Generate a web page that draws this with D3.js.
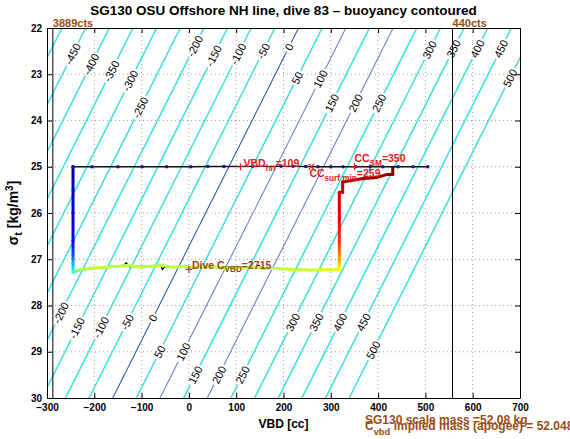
<!DOCTYPE html>
<html><head><meta charset="utf-8">
<script src="https://cdn.jsdelivr.net/npm/d3@7"></script>
<style>
body{margin:0;background:#fff;}
svg{display:block;font-family:"Liberation Sans",Arial,Helvetica,sans-serif;}
</style></head><body>
<svg id="chart" width="570" height="439"></svg>
<script>
// ---------------- data ----------------
const titleText = "SG130 OSU Offshore NH line, dive 83 \u2013 buoyancy contoured";
const xTicks = [-300,-200,-100,0,100,200,300,400,500,600,700];
const yTicks = [22,23,24,25,26,27,28,29,30];

// buoyancy contours: B = VBD + buoyPerSigma*(sigma - sigmaNeutral)
const buoyPerSigma = 49.1, sigmaNeutral = 26.72;
const contourLevels = [-500,-450,-400,-350,-300,-250,-200,-150,-100,-50,0,50,100,150,200,250,300,350,400,450,500];
const contourLabelLevels = [-450,-400,-350,-300,-250,-200,-150,-100,-50,0,50,100,150,200,250,300,350,400,450,500,
                            -200,-150,-100,-50,0,50,100,150,200,250,300,350,400,450,500];
const contourLabelSigma  = [22.56,22.78,22.93,23.14,23.72,22.39,22.60,22.56,22.50,22.41,23.08,23.10,23.62,23.62,23.62,22.47,22.45,22.45,22.45,23.08,
                            28.16,28.49,28.47,28.36,28.27,29.00,29.00,29.50,29.50,29.50,28.36,28.36,28.36,28.36,28.96];

// VBD counts limits
const cVBD = 2715, vbdPerCount = -0.245;
const ctsLimits = [3889, 440];

// dive track: [VBD, sigma_t, time fraction]
const descentTrack = [[-245,25.00,0.02],[-245,25.50,0.06],[-245,26.00,0.09],[-245,26.60,0.125],[-245,26.90,0.2],[-245,27.10,0.31],[-245,27.28,0.43]];
const deepTrack = [[-245,27.28,0.43],[-236,27.25,0.5],[-225,27.22,0.54],[-212,27.20,0.555],[-200,27.19,0.56],[-188,27.18,0.56],[-176,27.17,0.56],
  [-164,27.15,0.56],[-152,27.16,0.56],[-140,27.14,0.56],[-128,27.13,0.56],[-116,27.15,0.56],[-104,27.17,0.56],[-92,27.16,0.56],[-80,27.15,0.56],
  [-68,27.14,0.56],[-56,27.13,0.56],[-44,27.16,0.56],[-32,27.17,0.56],[-20,27.16,0.56],[-8,27.15,0.56],[4,27.17,0.56],[16,27.18,0.56],[28,27.17,0.56],
  [40,27.16,0.56],[52,27.17,0.56],[64,27.18,0.56],[76,27.19,0.56],[88,27.18,0.56],[100,27.20,0.56],[112,27.19,0.56],[124,27.18,0.56],[136,27.17,0.56],
  [148,27.18,0.56],[160,27.20,0.56],[172,27.19,0.56],[184,27.20,0.56],[196,27.21,0.565],[208,27.21,0.565],[220,27.22,0.57],[232,27.23,0.57],
  [244,27.22,0.575],[256,27.24,0.58],[268,27.23,0.585],[280,27.22,0.59],[292,27.22,0.595],[304,27.23,0.6],[318,27.22,0.62]];
const deepBlackTrack = [[-245,27.27],[-200,27.19],[-140,27.14],[-132,27.08],[-126,27.16],[-80,27.15],[-60,27.12],[-56,27.22],[-50,27.16],[0,27.17],
  [140,27.17],[148,27.13],[152,27.18],[256,27.23],[318,27.22]];
const ascentTrack = [[318,27.22,0.62],[318,27.00,0.72],[318,26.60,0.83],[318,26.10,0.885],[318,25.55,0.93],[325,25.55,0.94],[325,25.33,0.95],
  [365,25.26,0.96],[397,25.23,0.97],[418,25.17,0.98],[431,25.17,0.99],[431,25.01,1.0]];
const surfaceVBD   = [-245,-205,-150,-99,-47,4,40,74,135,195,220,247,273,300,326,353,383,410,442,474,505];
const surfaceSigma = [25.00,25.00,25.00,25.00,25.00,25.00,24.995,24.995,24.99,24.99,24.99,24.995,25.0,25.0,25.0,25.0,25.0,25.0,25.0,25.0,25.0];

// annotations
const vbdNeutral = 109, ccSM = 350, ccSurfMin = 259, diveCVBDmark = [0, 27.22];
const massScale = 52.08, massImplied = "52.048";

// ---------------- drawing ----------------
const svg = d3.select("#chart");
const x = d3.scaleLinear().domain([-300,700]).range([47,520]);
const y = d3.scaleLinear().domain([22,30]).range([28,398]);
const X0 = x.range()[0], X1 = x.range()[1], Y0 = y.range()[0], Y1 = y.range()[1];
const defs = svg.append("defs");
defs.append("clipPath").attr("id","plotclip").append("rect")
  .attr("x",X0).attr("y",Y0).attr("width",X1-X0).attr("height",Y1-Y0);

// grid
const grid = svg.append("g").attr("stroke","#8c8c8c").attr("stroke-width",0.8).attr("stroke-dasharray","1,3");
xTicks.slice(1,-1).forEach(v=>grid.append("line").attr("x1",x(v)).attr("x2",x(v)).attr("y1",Y0).attr("y2",Y1));
yTicks.slice(1,-1).forEach(v=>grid.append("line").attr("y1",y(v)).attr("y2",y(v)).attr("x1",X0).attr("x2",X1));

// contours
const plot = svg.append("g").attr("clip-path","url(#plotclip)");
const vbdAt = (B,s) => B - buoyPerSigma*(s - sigmaNeutral);
const dxds = -buoyPerSigma*(x(1)-x(0)), dyds = y(1)-y(0);
const segLen = Math.hypot(dxds, dyds);
const angle = Math.atan2(-dyds, -dxds)*180/Math.PI;
const contourColor = B => B===0 ? "#2e5db6" : (B===100||B===200) ? "#6d7ed6" : "#3cdede";
const cg = plot.append("g");
const lg = plot.append("g").attr("font-size","11px").attr("fill","#000");
const gaps = {};
contourLabelLevels.forEach((B,i)=>{
  const s = contourLabelSigma[i];
  const t = lg.append("text").attr("text-anchor","middle").attr("dominant-baseline","central")
    .attr("transform",`translate(${x(vbdAt(B,s))},${y(s)}) rotate(${angle})`)
    .text(String(B));
  const w = t.node().getComputedTextLength();
  const h = (w/2+2)/segLen;
  (gaps[B] = gaps[B]||[]).push([s-h, s+h]);
});
contourLevels.forEach(B=>{
  const g = (gaps[B]||[]).slice().sort((a,b)=>a[0]-b[0]);
  let start = 21.5;
  const pieces = [];
  g.forEach(([a,b])=>{ pieces.push([start,a]); start = b; });
  pieces.push([start,30.5]);
  pieces.forEach(([a,b])=>{
    cg.append("line").attr("x1",x(vbdAt(B,a))).attr("y1",y(a)).attr("x2",x(vbdAt(B,b))).attr("y2",y(b))
      .attr("stroke",contourColor(B)).attr("stroke-width",B===0||B===100||B===200?1.1:1.5);
  });
});

// VBD count limit lines
const ctsG = svg.append("g");
ctsLimits.forEach(c=>{
  const v = (c - cVBD)*vbdPerCount;
  ctsG.append("line").attr("x1",x(v)).attr("x2",x(v)).attr("y1",Y0).attr("y2",Y1).attr("stroke","#000").attr("stroke-width",1);
  ctsG.append("text").attr("x",x(v)).attr("y",Y0-1).attr("font-size","11px").attr("font-weight","bold")
    .attr("fill","#994d14").text(c+"cts");
});

// jet colormap
const clamp = v=>Math.max(0,Math.min(1,v));
function jet(t){
  const r = clamp(Math.min(4*t-1.5, -4*t+4.5));
  const g = clamp(Math.min(4*t-0.5, -4*t+3.5));
  const b = clamp(Math.min(4*t+0.5, -4*t+2.5));
  return d3.rgb(r*255,g*255,b*255).formatHex();
}
let gradId = 0;
function drawTrack(track, width){
  const g = plot.append("g");
  for(let i=0;i<track.length-1;i++){
    const [v1,s1,t1] = track[i], [v2,s2,t2] = track[i+1];
    const x1=x(v1), y1=y(s1), x2=x(v2), y2=y(s2);
    let stroke;
    if (Math.abs(t1-t2) < 1e-6) stroke = jet(t1);
    else {
      const id = "tg"+(gradId++);
      const lgd = defs.append("linearGradient").attr("id",id).attr("gradientUnits","userSpaceOnUse")
        .attr("x1",x1).attr("y1",y1).attr("x2",x2).attr("y2",y2);
      lgd.append("stop").attr("offset","0").attr("stop-color",jet(t1));
      lgd.append("stop").attr("offset","1").attr("stop-color",jet(t2));
      stroke = `url(#${id})`;
    }
    g.append("line").attr("x1",x1).attr("y1",y1).attr("x2",x2).attr("y2",y2)
      .attr("stroke",stroke).attr("stroke-width",width).attr("stroke-linecap","round");
  }
}
// black deep trace underneath
plot.append("path").datum(deepBlackTrack)
  .attr("d", d3.line().x(d=>x(d[0])).y(d=>y(d[1])))
  .attr("fill","none").attr("stroke","#000").attr("stroke-width",1.2);
drawTrack(descentTrack, 3);
drawTrack(deepTrack, 3);
drawTrack(ascentTrack, 3);

// surface line with points
const surf = surfaceVBD.map((v,i)=>[v,surfaceSigma[i]]);
plot.append("path").datum(surf).attr("d", d3.line().x(d=>x(d[0])).y(d=>y(d[1])))
  .attr("fill","none").attr("stroke","#111").attr("stroke-width",1.3);
plot.append("g").selectAll("circle").data(surf).join("circle")
  .attr("cx",d=>x(d[0])).attr("cy",d=>y(d[1])).attr("r",1.8).attr("fill","#1414a0");

// markers
const red = "#e01b1b", brown = "#a2440f";
function plus(px,py,c,s=3.5){
  svg.append("path").attr("d",`M${px-s},${py}H${px+s}M${px},${py-s}V${py+s}`).attr("stroke",c).attr("stroke-width",1.2);
}
function cross(px,py,c,s=2.8){
  svg.append("path").attr("d",`M${px-s},${py-s}L${px+s},${py+s}M${px-s},${py+s}L${px+s},${py-s}`).attr("stroke",c).attr("stroke-width",1.2);
}
function rich(px,py,parts,c,size,weight){
  const t = svg.append("text").attr("x",px).attr("y",py).attr("fill",c)
    .attr("font-size",size+"px").attr("font-weight",weight||"bold");
  parts.forEach(p=>{
    if (p.sub) t.append("tspan").attr("font-size",(size*0.78)+"px").attr("dy",size*0.38).text(p.t);
    else t.append("tspan").attr("dy", p.back||0).text(p.t);
  });
  return t;
}
plus(x(vbdNeutral), y(25.0), red);
rich(x(vbdNeutral)+3, y(25.0), [{t:"VBD"},{t:"hn",sub:true},{t:"="+vbdNeutral,back:-10.5*0.38}], red, 10.5);
plus(x(ccSM), y(25.0), red);
rich(x(ccSM), y(24.89), [{t:"CC"},{t:"SM",sub:true},{t:"="+ccSM,back:-10.5*0.38}], red, 10.5);
cross(x(ccSurfMin), y(25.0), red);
rich(x(ccSurfMin)-2, y(25.23), [{t:"CC"},{t:"surf min",sub:true},{t:"="+ccSurfMin,back:-10.5*0.38}], red, 10.5);
plus(x(diveCVBDmark[0]), y(diveCVBDmark[1]), brown);
rich(x(diveCVBDmark[0])+3, y(27.2), [{t:"Dive C"},{t:"VBD",sub:true},{t:"="+cVBD,back:-10.5*0.38}], brown, 10.5);

// axes
const axG = svg.append("g").attr("font-size","12px").attr("font-weight","bold");
axG.append("g").attr("transform",`translate(0,${Y1})`)
  .call(d3.axisBottom(x).tickValues(xTicks).tickSizeInner(-5).tickSizeOuter(0).tickPadding(6));
axG.append("g").attr("transform",`translate(0,${Y0})`)
  .call(d3.axisTop(x).tickValues(xTicks).tickSizeInner(-5).tickSizeOuter(0).tickFormat(""));
axG.append("g").attr("transform",`translate(${X0},0)`)
  .call(d3.axisLeft(y).tickValues(yTicks).tickSizeInner(-5).tickSizeOuter(0).tickPadding(5));
axG.append("g").attr("transform",`translate(${X1},0)`)
  .call(d3.axisRight(y).tickValues(yTicks).tickSizeInner(-5).tickSizeOuter(0).tickFormat(""));
axG.selectAll("path.domain").attr("stroke","#000").attr("stroke-width",1);
axG.selectAll(".tick line").attr("stroke","#000");
axG.selectAll("text").attr("fill","#000");
axG.attr("font-family",null);

// titles
svg.append("text").attr("x",(X0+X1)/2).attr("y",15).attr("text-anchor","middle")
  .attr("font-size","13.5px").attr("font-weight","bold").text(titleText);
svg.append("text").attr("x",(X0+X1)/2).attr("y",428).attr("text-anchor","middle")
  .attr("font-size","12px").attr("font-weight","bold").text("VBD [cc]");
const ylab = svg.append("text").attr("transform",`translate(18,${(Y0+Y1)/2}) rotate(-90)`)
  .attr("text-anchor","middle").attr("font-size","14px").attr("font-weight","bold");
ylab.append("tspan").text("\u03c3");
ylab.append("tspan").attr("font-size","11px").attr("dy",4).text("t");
ylab.append("tspan").attr("dy",-4).text(" [kg/m");
ylab.append("tspan").attr("font-size","10px").attr("dy",-5).text("3");
ylab.append("tspan").attr("dy",5).text("]");

// bottom mass texts
rich(365, 424, [{t:"SG130 scale mass ="+massScale+" kg"}], "#994d14", 12);
rich(365, 430, [{t:"C"},{t:"vbd",sub:true},{t:" implied mass (apogee) = "+massImplied,back:-12*0.38}], "#994d14", 12);
</script>
</body></html>
